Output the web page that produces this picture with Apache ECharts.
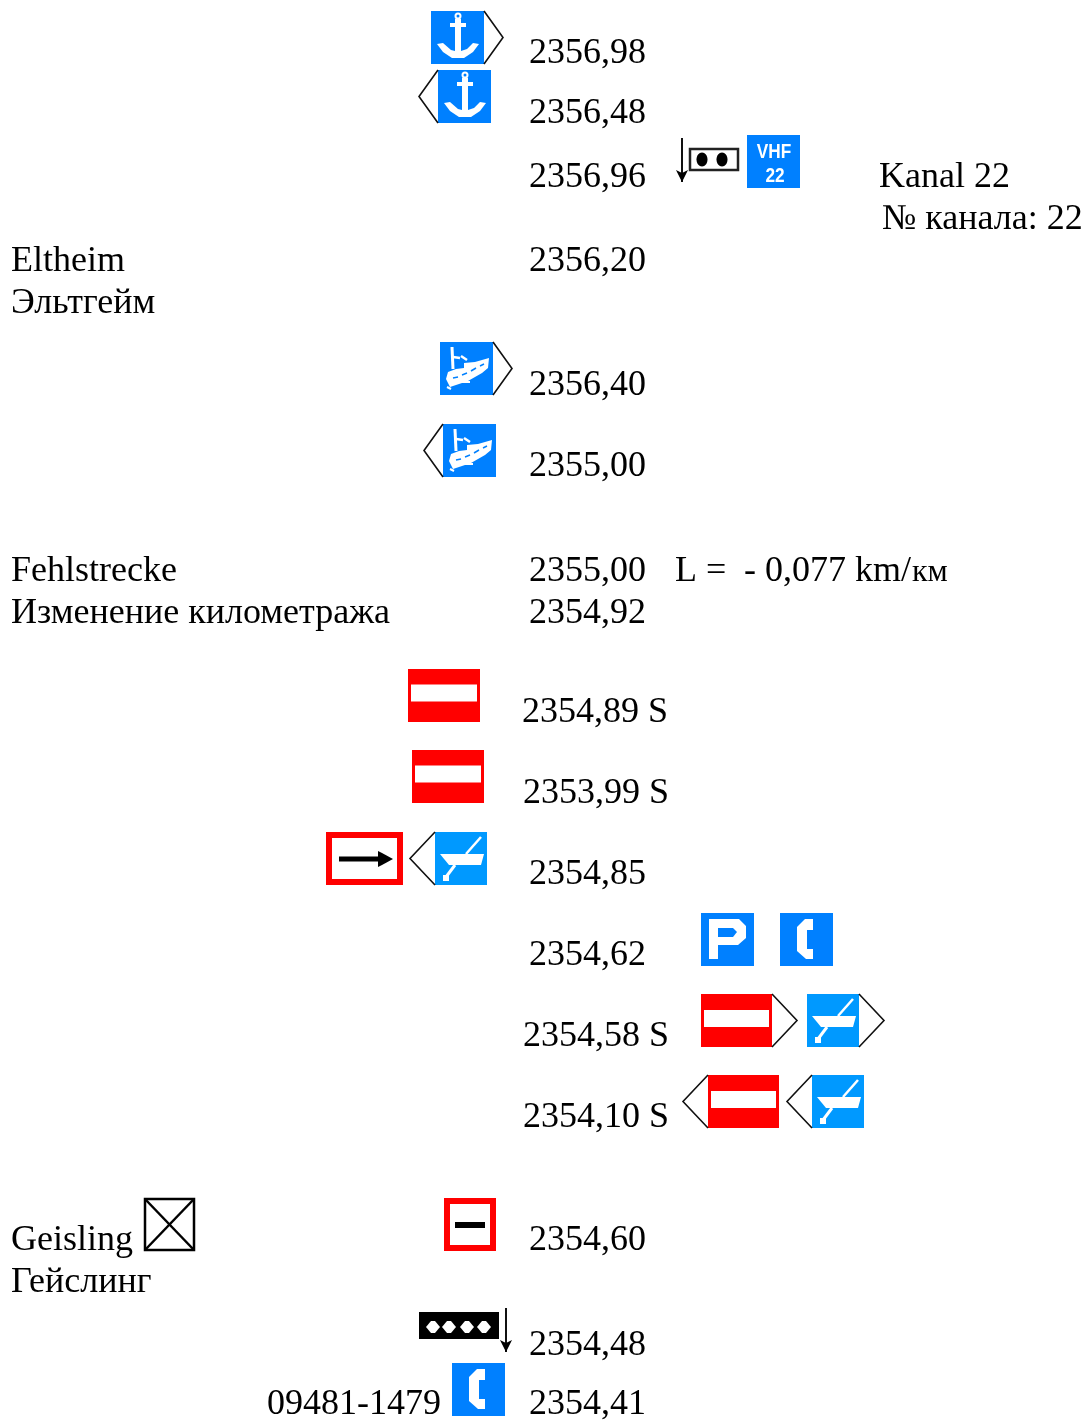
<!DOCTYPE html>
<html>
<head>
<meta charset="utf-8">
<title>Kilometer list</title>
<style>
  html, body { margin: 0; padding: 0; background: #fff; }
  #main { width: 1088px; height: 1421px; }
</style>
<script src="https://cdn.jsdelivr.net/npm/echarts@6/dist/echarts.min.js"></script>
</head>
<body>
<div id="main"></div>
<script>
// text rows: x is the left edge, y the baseline
var textValues = [
  '2356,98', '2356,48', '2356,96', 'Kanal 22', '№ канала: 22',
  'Eltheim', 'Эльтгейм', '2356,20', '2356,40', '2355,00',
  'Fehlstrecke', 'Изменение километража', '2355,00', '2354,92', 'L =', '- 0,077 km/',
  '2354,89 S', '2353,99 S', '2354,85', '2354,62', '2354,58 S', '2354,10 S',
  'Geisling', 'Гейслинг', '2354,60', '2354,48', '09481-1479', '2354,41'
]
var textX = [
  529, 529, 529, 879, 882,
  11, 11, 529, 529, 529,
  11, 11, 529, 529, 675, 744,
  522, 523, 529, 529, 523, 523,
  11, 11, 529, 529, 267, 529
]
var textY = [
  63, 123, 187, 187, 229,
  271, 313, 271, 395, 476,
  581, 623, 581, 623, 581, 581,
  722, 803, 884, 965, 1046, 1127,
  1250, 1292, 1250, 1355, 1414, 1414
]
var smallText = ['км']
var smallX = [912]
var smallY = [581]

// signs: top left corner of each plate
var signKinds = [
  'anchor', 'anchor', 'radioBox', 'vhf', 'ship', 'ship',
  'noEntry', 'noEntry', 'arrowFrame', 'boat',
  'parking', 'phone', 'noEntryShort', 'boat', 'noEntryShort', 'boat',
  'crossBox', 'minusFrame', 'dotsBox', 'phone'
]
var signX = [431, 438, 676, 747, 440, 443, 408, 412, 326, 435, 701, 780, 701, 807, 708, 812, 144, 444, 419, 452]
var signY = [11, 70, 136, 135, 342, 424, 669, 750, 832, 832, 913, 913, 994, 994, 1075, 1075, 1198, 1198, 1308, 1363]
var signChevrons = [1, -1, 0, 0, 1, -1, 0, 0, 0, -1, 0, 0, 1, 1, -1, -1, 0, 0, 0, 0]

var BLUE = '#0080ff'
var BOAT_BLUE = '#0099ff'
var RED = '#ff0000'

function rect(x, y, w, h, fill) {
  return { type: 'rect', shape: { x: x, y: y, width: w, height: h }, style: { fill: fill } }
}
function poly(points, fill) {
  return { type: 'polygon', shape: { points: points }, style: { fill: fill } }
}
function line(points, color, width) {
  return { type: 'polyline', shape: { points: points }, style: { fill: null, stroke: color, lineWidth: width } }
}
function downArrow(x, y1, y2) {
  return [
    line([[x, y1], [x, y2]], '#111', 2),
    poly([[x - 6, y2 - 12], [x, y2 - 9], [x + 6, y2 - 12], [x, y2]], '#000')
  ]
}
function vhfText(x, y, text) {
  return { type: 'text', x: x, y: y, scaleX: 0.82, style: { x: 0, y: 0, text: text, font: 'bold 21px "Liberation Sans"', fill: '#fff', textAlign: 'center', textBaseline: 'top' } }
}
function plate(w, bar) {
  return { w: w, h: 53, spread: 25, items: [rect(0, 0, w, 53, RED), rect(3, bar, w - 6, 17, '#fff')] }
}

// each painter returns its children and the plate size
var painters = {
  anchor: function () {
    return { w: 53, h: 53, spread: 19, items: [
      rect(0, 0, 53, 53, BLUE),
      { type: 'ring', shape: { cx: 27, cy: 5, r: 3.5, r0: 1.5 }, style: { fill: '#fff' } },
      rect(24, 8, 6, 36, '#fff'),
      rect(19, 12, 16, 4, '#fff'),
      poly([[6, 33], [12, 32], [20, 39], [24, 40], [30, 40], [36, 38], [42, 32], [48, 33], [42, 41], [33, 47], [21, 47], [12, 41]], '#fff')
    ] }
  },
  radioBox: function () {
    var box = { type: 'rect', shape: { x: 14, y: 13, width: 48, height: 21 }, style: { fill: '#fff', stroke: '#222', lineWidth: 2.5 } }
    return { w: 64, h: 46, items: downArrow(6, 2, 46).concat([
      box,
      { type: 'ellipse', shape: { cx: 26, cy: 23.5, rx: 5.5, ry: 7 }, style: { fill: '#000' } },
      { type: 'ellipse', shape: { cx: 46, cy: 23.5, rx: 5.5, ry: 7 }, style: { fill: '#000' } }
    ]) }
  },
  vhf: function () {
    return { w: 53, h: 53, items: [
      rect(0, 0, 53, 53, BLUE),
      vhfText(27, 7, 'VHF'),
      vhfText(28, 31, '22')
    ] }
  },
  ship: function () {
    return { w: 53, h: 53, spread: 19, items: [
      rect(0, 0, 53, 53, BLUE),
      line([[12, 5], [13, 27]], '#fff', 3),
      line([[13, 15], [20, 16]], '#fff', 2.5),
      line([[21, 14], [27, 18]], '#fff', 2.5),
      poly([[24, 21], [35, 20], [49, 16], [48, 26], [42, 31], [28, 39], [10, 45], [6, 37], [8, 30], [16, 27], [24, 26]], '#fff'),
      line([[13, 36], [18, 35]], BLUE, 1.5),
      line([[22, 33], [27, 31]], BLUE, 1.5),
      line([[31, 29], [36, 26]], BLUE, 1.5),
      line([[40, 24], [44, 22]], BLUE, 1.5),
      line([[22, 40], [30, 40]], '#fff', 2),
      line([[7, 45], [11, 47]], '#fff', 2)
    ] }
  },
  noEntry: function () {
    return plate(72, 15.5)
  },
  noEntryShort: function () {
    return plate(71, 16)
  },
  arrowFrame: function () {
    return { w: 77, h: 53, items: [
      rect(0, 0, 77, 53, RED),
      rect(6, 6, 65, 41, '#fff'),
      rect(13, 24.5, 45, 5, '#000'),
      poly([[52, 19], [56, 21], [67, 27], [56, 33], [52, 35]], '#000')
    ] }
  },
  boat: function () {
    return { w: 52, h: 53, spread: 25, items: [
      rect(0, 0, 52, 53, BOAT_BLUE),
      poly([[5, 22], [49, 22], [46, 33], [14, 33]], '#fff'),
      line([[31, 22], [46, 5]], '#fff', 2.5),
      line([[20, 33], [11, 45]], '#fff', 3),
      rect(8, 43, 6, 6, '#fff')
    ] }
  },
  parking: function () {
    return { w: 53, h: 53, items: [
      rect(0, 0, 53, 53, BLUE),
      poly([[8, 6], [38, 6], [45, 13], [45, 25], [37, 32], [17, 32], [17, 46], [8, 46]], '#fff'),
      poly([[17, 15], [32, 15], [36, 19], [32, 24], [17, 24]], BLUE)
    ] }
  },
  phone: function () {
    return { w: 53, h: 53, items: [
      rect(0, 0, 53, 53, BLUE),
      poly([[25, 6], [33, 6], [33, 17], [27, 17], [27, 36], [33, 36], [33, 46], [26, 46], [17, 38], [17, 14]], '#fff')
    ] }
  },
  crossBox: function () {
    return { w: 51, h: 53, items: [
      { type: 'rect', shape: { x: 1, y: 1, width: 49, height: 51 }, style: { fill: '#fff', stroke: '#000', lineWidth: 2.5 } },
      line([[1, 1], [50, 52]], '#000', 2.5),
      line([[50, 1], [1, 52]], '#000', 2.5)
    ] }
  },
  minusFrame: function () {
    return { w: 52, h: 53, items: [
      rect(0, 0, 52, 53, RED),
      rect(6, 6, 40, 41, '#fff'),
      rect(11, 24, 30, 6, '#000')
    ] }
  },
  dotsBox: function () {
    var items = [rect(0, 4, 80, 27, '#000')]
    ;[14, 30, 48, 65].forEach(function (cx) {
      items.push(poly([[cx - 7, 19], [cx - 2, 13], [cx + 2, 13], [cx + 7, 19], [cx + 2, 25], [cx - 2, 25]], '#fff'))
    })
    return { w: 80, h: 31, items: items.concat(downArrow(87, 0, 44)) }
  }
}

function chevron(sign, dir) {
  var x = dir > 0 ? sign.w : 0
  return line([[x, 0], [x + dir * sign.spread, sign.h / 2], [x, sign.h]], '#111', 1.6)
}

function renderSign(params, api) {
  var i = params.dataIndex
  var pos = api.coord([api.value(0), api.value(1)])
  var sign = painters[signKinds[i]]()
  var children = sign.items
  if (signChevrons[i]) children = children.concat([chevron(sign, signChevrons[i])])
  return { type: 'group', x: pos[0], y: pos[1], children: children }
}

// text is placed by its top, so the baseline is moved up by three quarters of the size
function renderText(names, size) {
  return function (params, api) {
    var pos = api.coord([api.value(0), api.value(1)])
    return {
      type: 'text',
      style: { x: pos[0], y: pos[1] - size * 0.75, text: names[params.dataIndex], font: size + 'px "Liberation Serif"', fill: '#000', textBaseline: 'top' }
    }
  }
}

function zip(xs, ys) {
  return xs.map(function (x, i) { return [x, ys[i]] })
}

var myChart = echarts.init(document.getElementById('main'), null, { renderer: 'canvas' })
myChart.setOption({
  animation: false,
  backgroundColor: '#fff',
  grid: { left: 0, right: 0, top: 0, bottom: 0 },
  xAxis: { type: 'value', min: 0, max: 1088, show: false },
  yAxis: { type: 'value', min: 0, max: 1421, inverse: true, show: false },
  series: [
    { type: 'custom', name: 'signs', clip: false, silent: true, data: zip(signX, signY), renderItem: renderSign },
    { type: 'custom', name: 'text', clip: false, silent: true, data: zip(textX, textY), renderItem: renderText(textValues, 36) },
    { type: 'custom', name: 'smallText', clip: false, silent: true, data: zip(smallX, smallY), renderItem: renderText(smallText, 32) }
  ]
})
</script>
</body>
</html>
